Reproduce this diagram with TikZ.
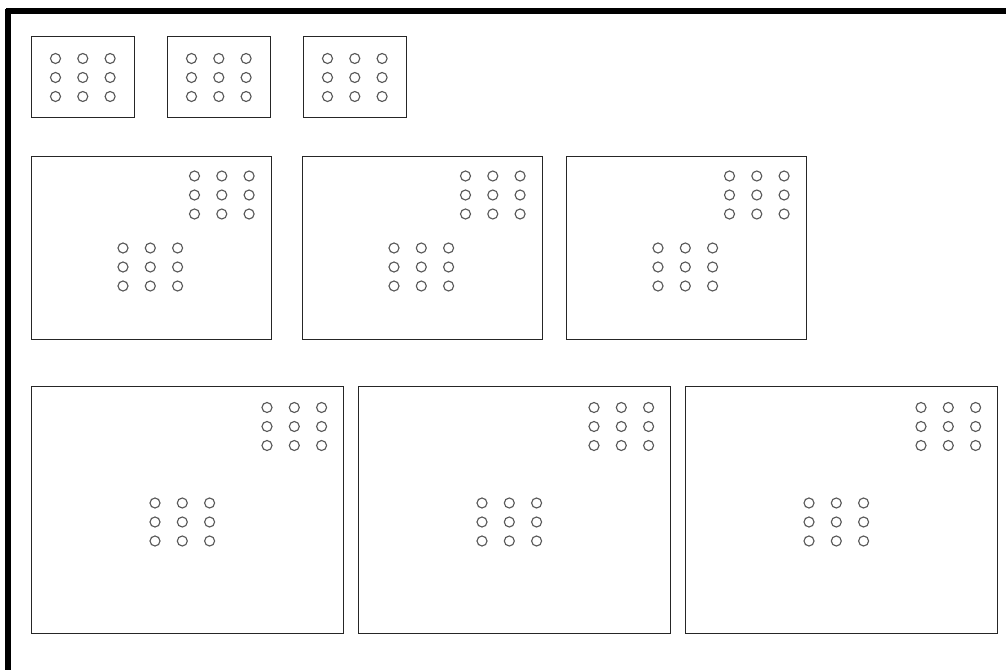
\documentclass[tikz,border=0pt]{standalone}
\begin{document}
\begin{tikzpicture}[x=0.75pt,y=-0.75pt,
  frame/.style={draw=black!85, line width=0.6pt},
  hole/.style={draw=black!65, line width=0.85pt},
  rule/.style={draw=black, line width=3.8pt}]
\useasboundingbox[fill=white] (0,0) rectangle (1006,670);
% thick page edges
\coordinate (tl) at (8,11);
\coordinate (tr) at (1006,11);
\coordinate (bl) at (8,670);
\draw[rule] (bl) -- ([yshift=1.5pt]tl) ;
\draw[rule] ([xshift=-1.5pt]tl) -- (tr);
\newcommand\holegrid[2]{%
  \foreach \i in {0,1,2}{\foreach \j in {0,1,2}{%
    \draw[hole] ({#1+27.3*\i},{#2+19*\j}) circle[radius=5];}}}
% small boxes
\foreach \x in {31,167,303}{
  \draw[frame] (\x,36) rectangle ++(103,81);
  \holegrid{\x+24.5}{58.5}
}
% middle boxes
\foreach \x in {31,302,566}{
  \draw[frame] (\x,156) rectangle ++(240,183);
  \holegrid{\x+163.5}{176}
  \holegrid{\x+92}{248}
}
% large boxes
\foreach \x in {31,358,685}{
  \draw[frame] (\x,386) rectangle ++(312,247);
  \holegrid{\x+236}{407.5}
  \holegrid{\x+124}{503}
}
\end{tikzpicture}
\end{document}
